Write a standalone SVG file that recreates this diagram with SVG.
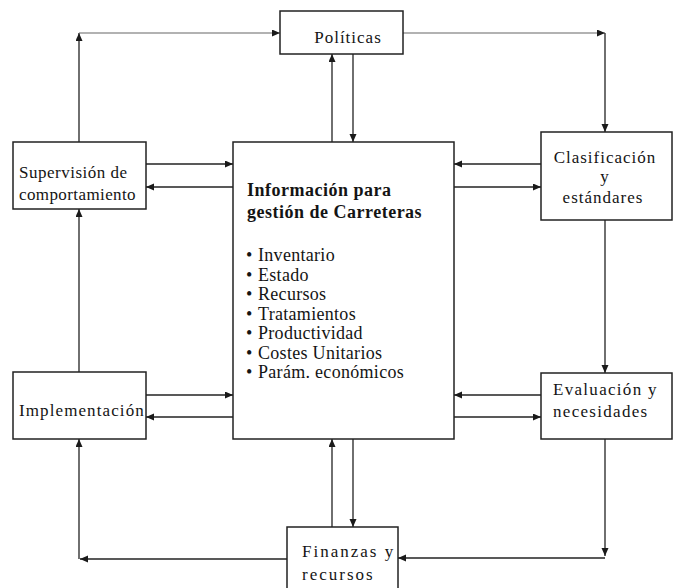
<svg xmlns="http://www.w3.org/2000/svg" width="673" height="588" viewBox="0 0 673 588">
  <style>
    .box { fill: #fff; stroke: #222; stroke-width: 1.5; }
    .link { fill: none; stroke: #222; stroke-width: 1.3; }
    .faint { stroke: #666; stroke-width: 1.1; }
    text { font-family: "Liberation Serif", "Times New Roman", serif; fill: #141414; }
    .lbl { font-size: 17px; letter-spacing: 1px; }
    .main { font-size: 18px; }
    .head { font-weight: bold; letter-spacing: 0.5px; }
    .item { letter-spacing: 0.3px; }
  </style>
  <defs>
    <marker id="arr" markerUnits="userSpaceOnUse" markerWidth="9" markerHeight="8" refX="8" refY="3.5" orient="auto">
      <path d="M0,0 L8,3.5 L0,7 z" fill="#1a1a1a"/>
    </marker>
  </defs>

  <rect width="673" height="588" fill="#fff"/>

  <!-- connectors -->
  <g id="connectors">
    <!-- Supervisión ⇄ Políticas (upper loop) -->
    <line class="link" x1="79" y1="142" x2="79" y2="33" marker-end="url(#arr)"/>
    <line class="link faint" x1="79" y1="33" x2="280" y2="33" marker-end="url(#arr)"/>
    <!-- Políticas → Clasificación -->
    <line class="link faint" x1="403" y1="33" x2="605" y2="33" marker-end="url(#arr)"/>
    <line class="link" x1="605" y1="33" x2="605" y2="132" marker-end="url(#arr)"/>
    <!-- Información ⇄ Políticas -->
    <line class="link" x1="332" y1="142" x2="332" y2="54" marker-end="url(#arr)"/>
    <line class="link" x1="353" y1="54" x2="353" y2="142" marker-end="url(#arr)"/>
    <!-- Supervisión ⇄ Información -->
    <line class="link" x1="146" y1="164" x2="233" y2="164" marker-end="url(#arr)"/>
    <line class="link" x1="233" y1="187" x2="146" y2="187" marker-end="url(#arr)"/>
    <!-- Clasificación ⇄ Información -->
    <line class="link" x1="541" y1="164" x2="454" y2="164" marker-end="url(#arr)"/>
    <line class="link" x1="454" y1="187" x2="541" y2="187" marker-end="url(#arr)"/>
    <!-- Clasificación → Evaluación -->
    <line class="link" x1="605" y1="220" x2="605" y2="373" marker-end="url(#arr)"/>
    <!-- Evaluación ⇄ Información -->
    <line class="link" x1="541" y1="395" x2="454" y2="395" marker-end="url(#arr)"/>
    <line class="link" x1="454" y1="417" x2="541" y2="417" marker-end="url(#arr)"/>
    <!-- Implementación ⇄ Información -->
    <line class="link" x1="146" y1="395" x2="233" y2="395" marker-end="url(#arr)"/>
    <line class="link" x1="233" y1="417" x2="146" y2="417" marker-end="url(#arr)"/>
    <!-- Implementación → Supervisión -->
    <line class="link" x1="79" y1="372" x2="79" y2="209" marker-end="url(#arr)"/>
    <!-- Evaluación → Finanzas -->
    <line class="link" x1="605" y1="439" x2="605" y2="556" marker-end="url(#arr)"/>
    <line class="link" x1="605" y1="558" x2="398" y2="558" marker-end="url(#arr)"/>
    <!-- Finanzas → Implementación -->
    <line class="link" x1="287" y1="559" x2="80" y2="559" marker-end="url(#arr)"/>
    <line class="link" x1="79" y1="559" x2="79" y2="439" marker-end="url(#arr)"/>
    <!-- Información ⇄ Finanzas -->
    <line class="link" x1="332" y1="527" x2="332" y2="439" marker-end="url(#arr)"/>
    <line class="link" x1="353" y1="439" x2="353" y2="527" marker-end="url(#arr)"/>
  </g>

  <g id="politicas">
    <rect class="box" x="280" y="11" width="123" height="43"/>
    <text class="lbl" x="348" y="43" text-anchor="middle">Políticas</text>
  </g>

  <g id="supervision">
    <rect class="box" x="13" y="142" width="133" height="67"/>
    <text class="lbl" x="19" y="178" style="letter-spacing:0.5px">Supervisión de</text>
    <text class="lbl" x="19" y="200" style="letter-spacing:0.4px">comportamiento</text>
  </g>

  <g id="informacion">
    <rect class="box" x="233" y="142" width="221" height="297"/>
    <text class="main head" x="247" y="196">Información para</text>
    <text class="main head" x="247" y="218">gestión de Carreteras</text>
    <g class="main item">
      <text x="246" y="261">•</text><text x="258" y="261">Inventario</text>
      <text x="246" y="280.5">•</text><text x="258" y="280.5">Estado</text>
      <text x="246" y="300">•</text><text x="258" y="300">Recursos</text>
      <text x="246" y="319.5">•</text><text x="258" y="319.5">Tratamientos</text>
      <text x="246" y="339">•</text><text x="258" y="339">Productividad</text>
      <text x="246" y="358.5">•</text><text x="258" y="358.5">Costes Unitarios</text>
      <text x="246" y="378">•</text><text x="258" y="378">Parám. económicos</text>
    </g>
  </g>

  <g id="clasificacion">
    <rect class="box" x="541" y="132" width="131" height="88"/>
    <text class="lbl" x="605" y="163" text-anchor="middle">Clasificación</text>
    <text class="lbl" x="605" y="182" text-anchor="middle">y</text>
    <text class="lbl" x="603" y="203" text-anchor="middle">estándares</text>
  </g>

  <g id="evaluacion">
    <rect class="box" x="541" y="373" width="131" height="66"/>
    <text class="lbl" x="553" y="395" style="letter-spacing:1.3px">Evaluación y</text>
    <text class="lbl" x="553" y="417" style="letter-spacing:1.3px">necesidades</text>
  </g>

  <g id="implementacion">
    <rect class="box" x="13" y="372" width="133" height="67"/>
    <text class="lbl" x="19" y="416" style="letter-spacing:1.1px">Implementación</text>
  </g>

  <g id="finanzas">
    <rect class="box" x="287" y="527" width="111" height="70"/>
    <text class="lbl" x="302" y="557" style="letter-spacing:2px">Finanzas y</text>
    <text class="lbl" x="302" y="580" style="letter-spacing:2px">recursos</text>
  </g>
</svg>
